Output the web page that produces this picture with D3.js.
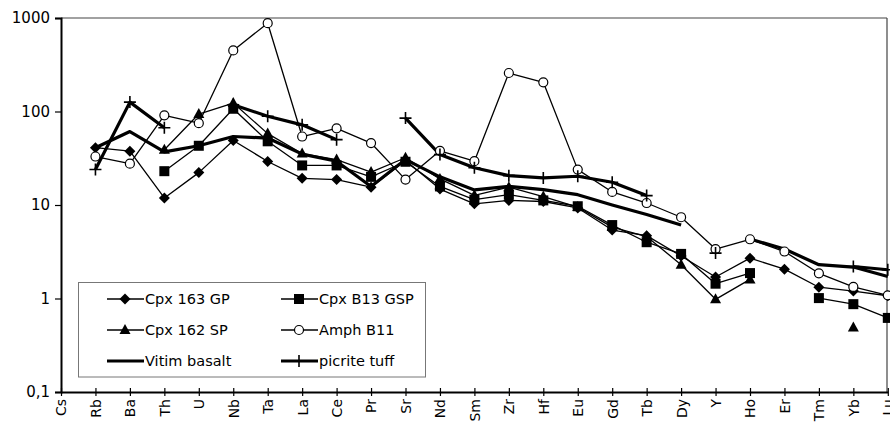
<!DOCTYPE html>
<html>
<head>
<meta charset="utf-8">
<script src="https://cdn.jsdelivr.net/npm/d3@7"></script>
<style>
  html, body { margin: 0; padding: 0; background: #fff; }
  svg { display: block; }
  text { font-family: "DejaVu Sans", sans-serif; fill: #000; }
</style>
</head>
<body>
<svg id="chart" width="890" height="424"></svg>
<script>
// Primitive-mantle normalised trace element patterns
const categories = ["Cs","Rb","Ba","Th","U","Nb","Ta","La","Ce","Pr","Sr","Nd","Sm","Zr","Hf","Eu","Gd","Tb","Dy","Y","Ho","Er","Tm","Yb","Lu"];

const cpx163GP    = [null, 41, 37.6, 11.9, 22.2, 49, 29.2, 19.3, 18.7, 15.5, 30, 14.8, 10.3, 11.2, 10.9, 9.3, 5.4, 4.7, 2.85, 1.7, 2.7, 2.06, 1.32, 1.2, 1.07];
const cpxB13GSP   = [null, null, null, 23, 43, 107, 48, 26.5, 26.5, 20, 29, 15.8, 11.4, 12.9, 11.2, 9.7, 6.1, 4.0, 3.0, 1.44, 1.87, null, 1.01, 0.87, 0.62];
const cpx162SP    = [null, null, null, 39, 94, 123, 58, 35.5, 30.6, 22.5, 32, 19, 12.7, 15.5, 12.3, 9.5, 5.8, 4.6, 2.3, 0.98, 1.6, null, null, 0.49, null];
const amphB11     = [null, 33, 27.7, 91, 75, 450, 880, 54, 66, 46, 18.7, 38, 29.4, 258, 205, 23.9, 13.8, 10.5, 7.4, 3.38, 4.3, 3.18, 1.86, 1.33, 1.08];
const vitimBasalt = [null, 41, 61, 37, 43, 54, 52, 35, 29.4, 15.8, 30.6, 20, 14.5, 15.8, 14.6, 12.9, 10, 7.9, 6.1, null, 4.33, 3.38, 2.3, 2.17, 1.72];
const picriteTuff = [null, 24, 126, 67, null, 118, 89, 72, 50, null, 85, 34.6, 25, 20.6, 19.5, 20.3, 17.5, 12.6, null, 3.06, null, null, null, 2.2, 2.03];

const yTicks = [0.1, 1, 10, 100, 1000];
const yTickLabels = ["0,1", "1", "10", "100", "1000"];

const series = [
  { name: "Cpx 163 GP",   values: cpx163GP,    marker: "diamond",  width: 1.3 },
  { name: "Cpx B13 GSP",  values: cpxB13GSP,   marker: "square",   width: 1.3 },
  { name: "Cpx 162 SP",   values: cpx162SP,    marker: "triangle", width: 1.3 },
  { name: "Amph B11",     values: amphB11,     marker: "circle",   width: 1.3 },
  { name: "Vitim basalt", values: vitimBasalt, marker: null,       width: 3.2 },
  { name: "picrite tuff", values: picriteTuff, marker: "plus",     width: 3.2 }
];

const svg = d3.select("#chart");
const plotLeft = 61, plotRight = 887.8, plotTop = 18, plotBottom = 392;

const x = d3.scalePoint().domain(categories).range([plotLeft, plotRight]).padding(0);
const y = d3.scaleLog().domain([0.1, 1000]).range([plotBottom, plotTop]);

// frame: thin top and right edges
svg.append("line").attr("x1", plotLeft).attr("x2", 887).attr("y1", plotTop).attr("y2", plotTop)
  .attr("stroke", "#444").attr("stroke-width", 1.2);
svg.append("line").attr("x1", 887).attr("x2", 887).attr("y1", plotTop).attr("y2", plotBottom)
  .attr("stroke", "#444").attr("stroke-width", 1.2);

// y axis
const yAxis = d3.axisLeft(y).tickValues(yTicks)
  .tickFormat((d, i) => yTickLabels[i]).tickSize(6).tickPadding(5);
const gy = svg.append("g").attr("transform", `translate(${plotLeft},0)`).call(yAxis);
gy.select(".domain").attr("stroke", "#000").attr("stroke-width", 2);
gy.selectAll(".tick line").attr("stroke", "#000").attr("stroke-width", 1.2);
gy.selectAll(".tick text").attr("font-family", "DejaVu Sans").attr("font-size", 15).attr("fill", "#000");

// x axis: ticks crossing the baseline, vertical labels
const xAxis = d3.axisBottom(x).tickSizeInner(4).tickSizeOuter(0).tickPadding(0);
const gx = svg.append("g").attr("transform", `translate(0,${plotBottom})`).call(xAxis);
gx.select(".domain").attr("stroke", "#000").attr("stroke-width", 2);
gx.selectAll(".tick line").attr("y1", -4).attr("y2", 4).attr("stroke", "#000").attr("stroke-width", 1.2);
gx.selectAll(".tick text")
  .attr("font-family", "DejaVu Sans").attr("font-size", 14).attr("fill", "#000")
  .attr("text-anchor", "end").attr("dy", "0.35em")
  .attr("transform", "translate(0,7) rotate(-90)")
  .attr("x", 0).attr("y", 0);

// legend box
const legend = svg.append("g");
legend.append("rect").attr("x", 78.5).attr("y", 282.5).attr("width", 347).attr("height", 94.5)
  .attr("fill", "#fff").attr("stroke", "#777").attr("stroke-width", 1);

function drawMarker(g, type, cx, cy) {
  if (type === "diamond") {
    g.append("path").attr("d", `M${cx},${cy - 5.5}L${cx + 5.5},${cy}L${cx},${cy + 5.5}L${cx - 5.5},${cy}Z`)
      .attr("fill", "#000");
  } else if (type === "square") {
    g.append("rect").attr("x", cx - 5).attr("y", cy - 5).attr("width", 10).attr("height", 10).attr("fill", "#000");
  } else if (type === "triangle") {
    g.append("path").attr("d", `M${cx},${cy - 6}L${cx + 5.5},${cy + 4}L${cx - 5.5},${cy + 4}Z`).attr("fill", "#000");
  } else if (type === "circle") {
    g.append("circle").attr("cx", cx).attr("cy", cy).attr("r", 4.5)
      .attr("fill", "#fff").attr("stroke", "#000").attr("stroke-width", 1.2);
  } else if (type === "plus") {
    g.append("path").attr("d", `M${cx - 6},${cy}H${cx + 6}M${cx},${cy - 6}V${cy + 6}`)
      .attr("stroke", "#000").attr("stroke-width", 1.6).attr("fill", "none");
  }
}

// series lines and markers
const line = d3.line()
  .defined(d => d.v != null)
  .x(d => x(d.c))
  .y(d => y(d.v));

const plot = svg.append("g");
series.forEach(s => {
  const pts = categories.map((c, i) => ({ c, v: s.values[i] }));
  plot.append("path").datum(pts).attr("d", line)
    .attr("fill", "none").attr("stroke", "#000").attr("stroke-width", s.width)
    .attr("stroke-linejoin", "round");
});
series.forEach(s => {
  if (!s.marker) return;
  const g = plot.append("g");
  categories.forEach((c, i) => {
    const v = s.values[i];
    if (v != null) drawMarker(g, s.marker, x(c), y(v));
  });
});

// legend entries
const legendPos = [
  { col: 0, row: 0 }, { col: 1, row: 0 },
  { col: 0, row: 1 }, { col: 1, row: 1 },
  { col: 0, row: 2 }, { col: 1, row: 2 }
];
series.forEach((s, i) => {
  const p = legendPos[i];
  const lx = p.col === 0 ? 107 : 281;
  const ly = 299 + p.row * 31;
  legend.append("line").attr("x1", lx).attr("x2", lx + 37).attr("y1", ly).attr("y2", ly)
    .attr("stroke", "#000").attr("stroke-width", s.width);
  if (s.marker) drawMarker(legend, s.marker, lx + 18, ly);
  legend.append("text").attr("x", lx + 38).attr("y", ly).attr("dy", "0.36em")
    .attr("font-family", "Open Sans").attr("font-size", 14.5).text(s.name);
});
</script>
</body>
</html>
